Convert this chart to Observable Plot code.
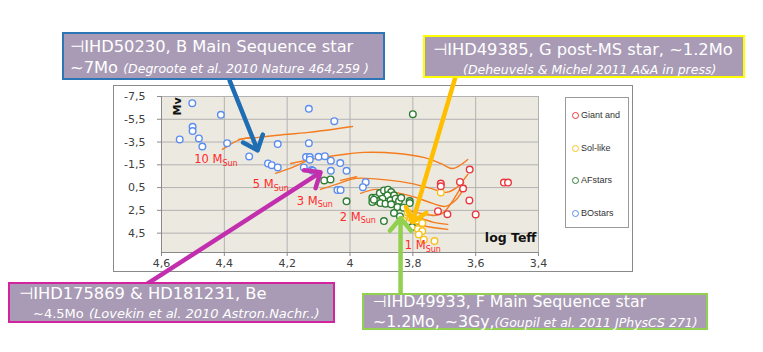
<!DOCTYPE html>
<html><head><meta charset="utf-8">
<script src="https://cdn.jsdelivr.net/npm/d3@7"></script>
<script src="https://cdn.jsdelivr.net/npm/@observablehq/plot@0.6"></script>
<style>
body{margin:0;background:#fff;font-family:"DejaVu Sans",sans-serif;}
#wrap{position:relative;width:763px;height:352px;overflow:hidden;background:#fff;}
#outer{position:absolute;left:113px;top:85px;width:520px;height:187px;border:1px solid #8a8a8a;box-sizing:border-box;background:#fff;}
#chart{position:absolute;left:0;top:0;}
#legend{position:absolute;left:565px;top:97px;width:64px;height:131px;border:1px solid #9a9a9a;box-sizing:border-box;background:#fff;font-family:"Liberation Sans",Arial,sans-serif;font-size:9px;color:#333;}
.li{position:absolute;left:6px;white-space:nowrap;line-height:10px;}
.li span.c{display:inline-block;width:5px;height:5px;border-radius:50%;border:1.3px solid;margin-right:2px;vertical-align:-1px;background:#fff;}
.box{position:absolute;box-sizing:border-box;background:#a99bb5;color:#fff;font-family:"DejaVu Sans",sans-serif;white-space:nowrap;}
.l1{position:absolute;font-size:16.3px;line-height:19px;}
.l2{position:absolute;font-size:16.3px;line-height:19px;}
.it{font-style:italic;font-size:12.5px;}
</style></head><body>
<div id="wrap">
  <div id="outer"></div>
  <div id="chart"></div>
  <div id="legend"></div>
  <div class="box" id="b1" style="left:62px;top:32px;width:323px;height:48px;border:2px solid #2e75b6;">
    <div class="l1" style="left:6px;top:3px;">⊣IHD50230, B Main Sequence star</div>
    <div class="l2" style="left:6px;top:24px;">~7Mo <span class="it">(Degroote et al. 2010 Nature 464,259 )</span></div>
  </div>
  <div class="box" id="b2" style="left:423px;top:35px;width:322px;height:43px;border:2px solid #ffff00;">
    <div class="l1" style="left:8px;top:3px;">⊣IHD49385, G post-MS star, ~1.2Mo</div>
    <div class="l2" style="left:38px;top:22px;"><span class="it">(Deheuvels &amp; Michel 2011 A&amp;A in press)</span></div>
  </div>
  <div class="box" id="b3" style="left:8px;top:282px;width:327px;height:41px;border:2px solid #d2249f;">
    <div class="l1" style="left:9px;top:0px;">⊣IHD175869 &amp; HD181231, Be</div>
    <div class="l2" style="left:23px;top:19px;"><span style="font-size:13px">~4.5Mo</span> <span class="it" style="font-size:13px">(Lovekin et al. 2010 Astron.Nachr..)</span></div>
  </div>
  <div class="box" id="b4" style="left:362px;top:293px;width:346px;height:37px;border:2px solid #92d050;">
    <div class="l1" style="left:9px;top:-1px;line-height:16px;font-size:15.8px;">⊣IHD49933, F Main Sequence star</div>
    <div class="l2" style="left:9px;top:19px;line-height:16px;font-size:15.8px;">~1.2Mo, ~3Gy,<span class="it">(Goupil et al. 2011 JPhysCS 271)</span></div>
  </div>
</div>
<script>
// ---- axes ----
const xTicks = [4.6, 4.4, 4.2, 4.0, 3.8, 3.6, 3.4];
const yTicks = [-7.5, -5.5, -3.5, -1.5, 0.5, 2.5, 4.5];
const xDomain = [4.6, 3.4];
const yDomain = [6.2, -7.5];

// ---- categories ----
const categories = ["Giant and", "Sol-like", "AFstars", "BOstars"];
const catColors = ["#e8383d", "#f7c21b", "#2f7d32", "#5b8def"];

// ---- stars (log Teff, Mv) ----
const giantTeff = [3.619, 3.650, 3.640, 3.620, 3.720, 3.690, 3.600, 3.510, 3.497, 3.711, 3.711];
const giantMv   = [-1.08, 0.00, 0.58, 1.63, 2.57, 2.83, 2.86, 0.06, 0.06, 0.15, 0.38];

const solTeff = [3.816, 3.831, 3.807, 3.788, 3.770, 3.784, 3.770, 3.781, 3.765, 3.731, 3.711];
const solMv   = [2.68, 3.38, 3.15, 3.38, 3.61, 4.14, 4.31, 4.61, 5.07, 5.19, 0.92];

const afTeff = [3.800, 4.082, 4.062, 4.011, 3.929, 3.918, 3.905, 3.892, 3.879, 3.869, 3.860, 3.881, 3.897, 3.913, 3.929, 3.903, 3.887, 3.871, 3.855, 3.844, 3.837, 3.810, 3.810, 3.849, 3.830, 3.860, 3.841, 3.892, 3.802, 3.869, 3.924];
const afMv   = [-5.95, -0.13, -0.22, 1.71, 1.39, 1.39, 0.98, 0.75, 0.68, 0.89, 1.18, 1.18, 1.47, 1.68, 1.77, 1.86, 1.91, 1.62, 1.47, 1.68, 1.39, 1.68, 1.86, 2.21, 2.26, 2.73, 3.03, 3.44, 3.96, 1.97, 1.56];

const boTeff = [4.502, 4.411, 4.131, 4.050, 4.501, 4.501, 4.542, 4.481, 4.470, 4.391, 4.230, 4.131, 4.321, 4.261, 4.249, 4.230, 4.147, 4.140, 4.128, 4.128, 4.100, 4.080, 4.061, 4.031, 4.122, 4.118, 4.061, 4.011, 4.040, 4.030, 3.950, 3.959];
const boMv   = [-6.91, -5.89, -6.42, -5.33, -4.84, -4.46, -3.73, -3.82, -3.11, -3.40, -3.32, -3.40, -2.24, -1.62, -1.47, -1.27, -1.27, -2.18, -2.18, -1.95, -2.21, -2.26, -1.86, -1.65, -1.04, -0.98, -0.98, -0.98, 0.72, 0.72, 0.02, 0.46];

// ---- evolutionary tracks ----
const t10Teff = [4.406, 4.348, 4.291, 4.237, 4.132, 3.992];
const t10Mv   = [-2.86, -3.73, -3.91, -4.08, -4.35, -4.87];
const h10Teff = [4.355, 4.310];
const h10Mv   = [-3.73, -3.91];
const t5Teff = [4.237, 4.183, 4.125, 4.020, 3.957, 3.848, 3.766, 3.711, 3.673, 3.625];
const t5Mv   = [-0.75, -1.27, -1.95, -2.41, -2.59, -2.50, -2.15, -1.62, -1.18, -1.97];
const h5Teff = [4.189, 4.141];
const h5Mv   = [-1.62, -1.89];
const t3Teff = [4.094, 4.030, 3.982, 3.871, 3.807, 3.743, 3.696, 3.664, 3.625];
const t3Mv   = [0.66, 0.08, -0.31, -0.13, 0.13, 0.57, 0.92, 0.57, -0.66];
const h3Teff = [4.030, 3.979];
const h3Mv   = [-0.13, -0.45];
const t2Teff = [3.966, 3.918, 3.855, 3.791, 3.737, 3.696, 3.664, 3.632];
const t2Mv   = [1.01, 0.66, 0.92, 1.36, 1.89, 2.15, 1.62, 0.31];
const t15Teff = [3.839, 3.775, 3.727, 3.702, 3.638];
const t15Mv   = [2.32, 2.76, 2.94, 2.68, 0.04];
const t1Teff = [3.823, 3.775, 3.734, 3.689];
const t1Mv   = [2.94, 3.20, 3.55, 3.73];
const t09Teff = [3.807, 3.759, 3.689];
const t09Mv   = [3.55, 3.90, 4.17];

// ---- mass labels ----
const massLabels = ["10", "5", "3", "2", "1"];
const massTeff = [4.406, 4.243, 4.103, 3.966, 3.759];
const massMv = [-1.98, 0.21, 1.67, 3.07, 5.55];

// ---- annotation arrows (tail -> head, in data units) ----
const arrowColors = ["#1f6db3", "#ffbf00", "#c22fae", "#92d050"];
const arrowTeff1 = [4.383, 3.664, 4.651, 3.839];
const arrowMv1   = [-8.90, -9.25, 9.05, 10.36];
const arrowTeff2 = [4.294, 3.801, 4.094, 3.839];
const arrowMv2   = [-2.77, 3.53, -0.84, 3.18];

// ---- build tables ----
const pts = (t, m, c) => t.map((d, i) => ({teff: d, mv: m[i], cat: c}));
const stars = [
  ...pts(boTeff, boMv, "BOstars"),
  ...pts(afTeff, afMv, "AFstars"),
  ...pts(solTeff, solMv, "Sol-like"),
  ...pts(giantTeff, giantMv, "Giant and")
];
const trackList = [[t10Teff,t10Mv],[h10Teff,h10Mv],[t5Teff,t5Mv],[h5Teff,h5Mv],[t3Teff,t3Mv],[h3Teff,h3Mv],[t2Teff,t2Mv],[t15Teff,t15Mv],[t1Teff,t1Mv],[t09Teff,t09Mv]];
const tracks = trackList.flatMap(([t, m], k) => t.map((d, i) => ({teff: d, mv: m[i], id: k})));
const labels = massLabels.map((s, i) => ({s, teff: massTeff[i], mv: massMv[i]}));
const arrows = arrowColors.map((c, i) => ({c, x1: arrowTeff1[i], y1: arrowMv1[i], x2: arrowTeff2[i], y2: arrowMv2[i]}));
const fmt = d => String(d).replace(".", ",");

const plot = Plot.plot({
  width: 763, height: 352,
  marginLeft: 161, marginRight: 225, marginTop: 96, marginBottom: 100,
  style: {background: "transparent", fontFamily: "DejaVu Sans, sans-serif", fontSize: "11px", color: "#404040"},
  x: {domain: xDomain, label: null},
  y: {domain: yDomain, label: null},
  color: {domain: categories, range: catColors},
  marks: [
    Plot.frame({fill: "#ece9e0", stroke: "none"}),
    Plot.gridY(yTicks, {stroke: "#b2b2b2", strokeOpacity: 1}),
    Plot.gridX(xTicks, {stroke: "#b2b2b2", strokeOpacity: 1}),
    Plot.ruleX([xDomain[0]], {stroke: "#8a8a8a"}),
    Plot.ruleY([yDomain[0]], {stroke: "#8a8a8a"}),
    Plot.axisY(yTicks, {tickFormat: fmt, tickSize: 4, tickPadding: 12, stroke: "#8a8a8a", fill: "#404040", label: null}),
    Plot.axisX(xTicks, {tickFormat: fmt, tickSize: 4, tickPadding: 3, stroke: "#8a8a8a", fill: "#404040", label: null}),
    Plot.line(tracks, {x: "teff", y: "mv", z: "id", stroke: "#f47c20", strokeWidth: 1.4, curve: "catmull-rom"}),
    Plot.dot(stars, {x: "teff", y: "mv", stroke: "cat", fill: "white", r: 3.3, strokeWidth: 1.4}),
    Plot.text(labels, {x: "teff", y: "mv", text: d => d.s + " M", textAnchor: "end", fill: "#ff2a2a", fontSize: 11.5}),
    Plot.text(labels, {x: "teff", y: "mv", text: () => "Sun", textAnchor: "start", dy: 4, fill: "#ff2a2a", fontSize: 8}),
    Plot.text(["Mv"], {frameAnchor: "top-left", dx: 12, dy: 19, rotate: -90, text: d => d, fontWeight: "bold", fontSize: 11, fill: "#111"}),
    Plot.text(["log Teff"], {frameAnchor: "bottom-right", dx: -2, dy: -11, textAnchor: "end", text: d => d, fontWeight: "bold", fontSize: 12.5, fill: "#111"}),
    Plot.arrow(arrows, {x1: "x1", y1: "y1", x2: "x2", y2: "y2", stroke: d => d.c, strokeWidth: 4.5, headLength: 5.5, headAngle: 80})
  ]
});
document.getElementById("chart").appendChild(plot);

// legend
const leg = document.getElementById("legend");
const legTops = [12, 45, 77, 110];
categories.forEach((c, i) => {
  const d = document.createElement("div");
  d.className = "li";
  d.style.top = legTops[i] + "px";
  d.innerHTML = `<span class="c" style="border-color:${catColors[i]}"></span>${c}`;
  leg.appendChild(d);
});
</script>
</body></html>
